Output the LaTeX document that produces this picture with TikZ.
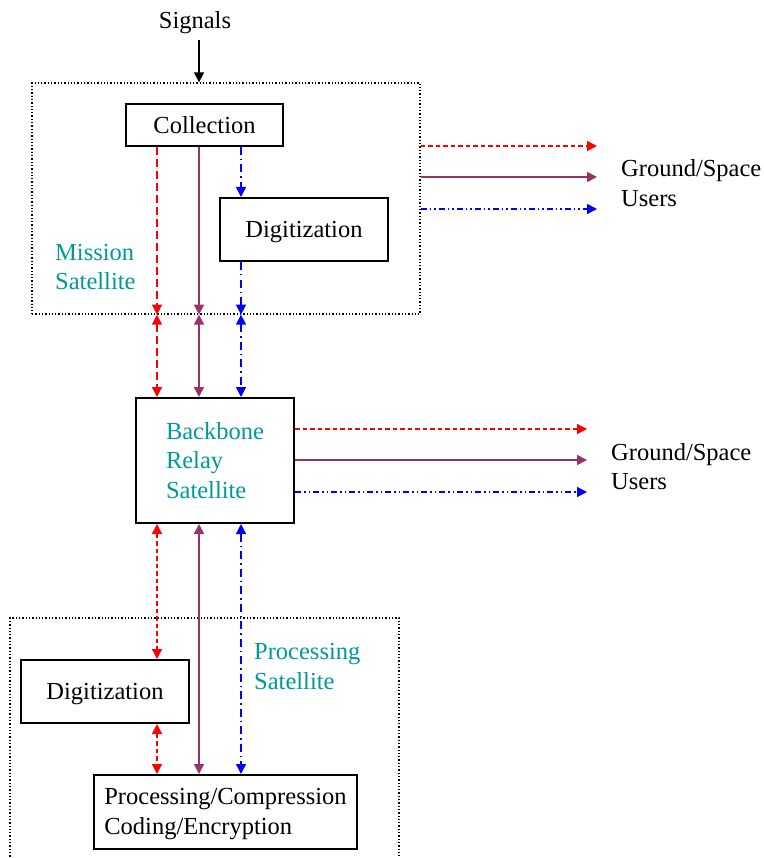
\documentclass[tikz,border=0pt]{standalone}
\usepackage{fontspec}
\setmainfont{Liberation Serif}
\usetikzlibrary{arrows.meta}
\definecolor{linkred}{RGB}{255,0,0}
\definecolor{linkplum}{RGB}{153,51,102}
\definecolor{linkblue}{RGB}{0,0,255}
\definecolor{satteal}{RGB}{0,153,153}

\tikzset{
  base/.style={font=\fontsize{24.5}{29.5}\selectfont},
  block/.style={base, draw, line width=2pt, inner sep=0pt, align=center},
  satbox/.style={draw, line width=1.3pt, dash pattern=on 1.3pt off 2pt, inner sep=0pt},
  satlabel/.style={base, text=satteal, align=left, inner sep=0pt, anchor=west},
  userlabel/.style={base, align=left, inner sep=0pt, anchor=west},
  onetip/.style={-{Triangle[length=10pt,width=10pt]}},
  twotip/.style={{Triangle[length=10pt,width=10pt]}-{Triangle[length=10pt,width=10pt]}},
  redlong/.style={linkred, line width=1.4pt, dash pattern=on 8pt off 4pt},
  redshort/.style={linkred, line width=1.4pt, dash pattern=on 4.5pt off 3pt},
  plumline/.style={linkplum, line width=1.8pt},
  bluelong/.style={linkblue, line width=1.4pt, dash pattern=on 8pt off 4pt on 1.5pt off 4pt},
  blueshort/.style={linkblue, line width=1.4pt, dash pattern=on 6pt off 3pt on 1.5pt off 3pt on 1.5pt off 3pt},
}

\begin{document}
\begin{tikzpicture}[x=1pt,y=-1pt]
\useasboundingbox (0,0) rectangle (763,858);

% satellite enclosures
\node[satbox, minimum width=388pt, minimum height=231pt] (mission) at (226,198.5) {};
\node[satbox, minimum width=389pt, minimum height=252pt] (procsat) at (204.5,744) {};

% blocks
\node[block, minimum width=157pt, minimum height=42pt] (coll) at (204.5,125) {Collection};
\node[block, minimum width=168pt, minimum height=63pt, text depth=0pt] (dig1) at (304,229.5) {Digitization};
\node[block, minimum width=158pt, minimum height=125pt, text=satteal, align=left] (relay) at (215,460.5) {Backbone\\Relay\\Satellite};
\node[block, minimum width=168pt, minimum height=63pt, text depth=0pt] (dig2) at (105,691.5) {Digitization};
\node[block, minimum width=263pt, minimum height=74pt] (proc) at (225.5,812) {};
\node[base, align=left, inner sep=0pt] (proctext) at (225.5,814) {Processing/Compression\\Coding/Encryption};

% labels
\node[base, inner sep=0pt, text depth=0pt] (signals) at (195,20) {Signals};
\node[satlabel] (missionlbl) at (55,267) {Mission\\Satellite};
\node[satlabel] (proclbl) at (254,666.5) {Processing\\Satellite};
\node[userlabel] (users1) at (621,183) {Ground/Space\\Users};
\node[userlabel] (users2) at (611,466.5) {Ground/Space\\Users};

% columns of the three links
\coordinate (xr) at (157,0);
\coordinate (xp) at (199,0);
\coordinate (xb) at (241,0);
\coordinate (sigtop) at (199,40);

% incoming signals
\draw[onetip, black, line width=1.3pt] (sigtop) -- (mission.north -| xp);

% inside the mission satellite
\draw[redlong, onetip] (coll.south -| xr) -- (mission.south -| xr);
\draw[plumline, onetip] (coll.south -| xp) -- (mission.south -| xp);
\draw[bluelong, onetip] (coll.south -| xb) -- (dig1.north -| xb);
\draw[bluelong, onetip] (dig1.south -| xb) -- (mission.south -| xb);

% mission satellite to relay
\draw[redlong, twotip] (mission.south -| xr) -- (relay.north -| xr);
\draw[plumline, twotip] (mission.south -| xp) -- (relay.north -| xp);
\draw[bluelong, twotip] (mission.south -| xb) -- (relay.north -| xb);

% relay to processing satellite
\draw[redshort, twotip] (relay.south -| xr) -- (dig2.north -| xr);
\draw[redshort, twotip] (dig2.south -| xr) -- (proc.north -| xr);
\draw[plumline, twotip] (relay.south -| xp) -- (proc.north -| xp);
\draw[bluelong, twotip] (relay.south -| xb) -- (proc.north -| xb);

% downlinks to users
\coordinate (u1) at (597,146);
\coordinate (u2) at (597,177);
\coordinate (u3) at (597,209);
\coordinate (u4) at (587,429);
\coordinate (u5) at (587,460);
\coordinate (u6) at (587,492);
\draw[redshort, onetip] (mission.east |- u1) -- (u1);
\draw[plumline, onetip] (mission.east |- u2) -- (u2);
\draw[blueshort, onetip] (mission.east |- u3) -- (u3);
\draw[redshort, onetip] (relay.east |- u4) -- (u4);
\draw[plumline, onetip] (relay.east |- u5) -- (u5);
\draw[blueshort, onetip] (relay.east |- u6) -- (u6);
\end{tikzpicture}
\end{document}
